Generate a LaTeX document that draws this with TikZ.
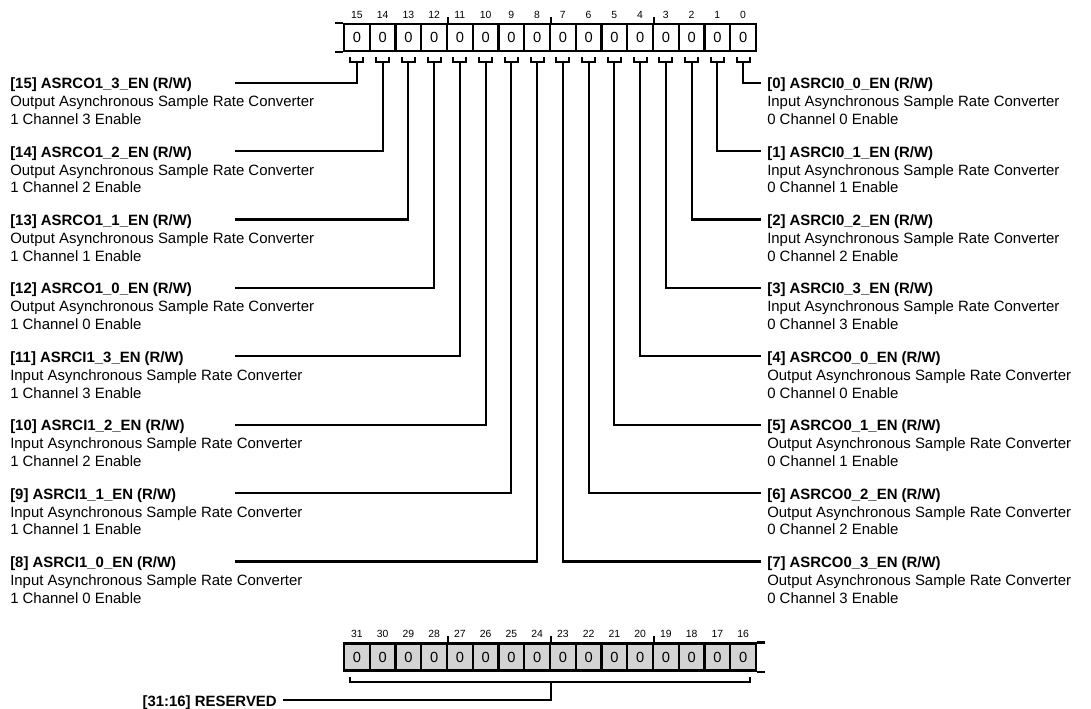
\documentclass[tikz,border=0pt]{standalone}
\usepackage{fontspec}
\setmainfont{Liberation Sans}
\usetikzlibrary{positioning,calc}
\definecolor{rsvgray}{RGB}{211,211,211}
\tikzset{
  bitcell/.style={draw,line width=1.6pt,minimum width=19.31pt,minimum height=20.25pt,
    inner sep=0pt,font=\fontsize{11}{12}\selectfont},
  rsvcell/.style={bitcell,fill=rsvgray},
  bitnum/.style={inner sep=0pt,font=\fontsize{7.8}{8}\selectfont},
  wire/.style={line width=1.6pt},
  tick/.style={line width=1.2pt},
  entry/.style={inner sep=0pt,align=left,anchor=north west,font=\fontsize{11.2}{13.4}\selectfont},
}

\begin{document}
\begin{tikzpicture}[x=0.75pt,y=-0.75pt]
  \useasboundingbox (0,0) rectangle (1091,709);
  % bits 15..0
  \foreach \b in {0,...,15} {
    \pgfmathsetmacro\cx{344+25.75*(15-\b)+12.875}
    \node[bitcell] (c\b) at (\cx,37.75) {0};
    \node[bitnum] (n\b) at (\cx,15) {\b};
  }
  \foreach \b in {12,8,4} \draw[tick] (c\b.north east) -- ++(0,-6);
  \draw[wire] (c15.north west) -- ++(-8,0);
  \draw[wire] (c15.south west) -- ++(-8,0);
  % left fields
  \foreach \b/\nm/\io/\ch [count=\r from 0] in {
      15/ASRCO1\_3\_EN/Output/3, 14/ASRCO1\_2\_EN/Output/2,
      13/ASRCO1\_1\_EN/Output/1, 12/ASRCO1\_0\_EN/Output/0,
      11/ASRCI1\_3\_EN/Input/3, 10/ASRCI1\_2\_EN/Input/2,
      9/ASRCI1\_1\_EN/Input/1, 8/ASRCI1\_0\_EN/Input/0} {
    \pgfmathsetmacro\ry{82.7+68.4*\r}
    \draw[wire] ($(c\b.south)+(-6.5,5)$) -- ++(0,5) -- ++(13,0) -- ++(0,-5);
    \coordinate (s\b) at ($(c\b.south)+(0,10)$);
    \coordinate (e\b) at (235,\ry);
    \node[entry] (t\b) at (10,\ry-5)
      {\textbf{[\b] \nm\ (R/W)}\\\io\ Asynchronous Sample Rate Converter\\1 Channel \ch\ Enable};
    \draw[wire] (s\b) |- (e\b);
  }
  % right fields
  \foreach \b/\nm/\io/\ch in {
      0/ASRCI0\_0\_EN/Input/0, 1/ASRCI0\_1\_EN/Input/1,
      2/ASRCI0\_2\_EN/Input/2, 3/ASRCI0\_3\_EN/Input/3,
      4/ASRCO0\_0\_EN/Output/0, 5/ASRCO0\_1\_EN/Output/1,
      6/ASRCO0\_2\_EN/Output/2, 7/ASRCO0\_3\_EN/Output/3} {
    \pgfmathsetmacro\ry{82.7+68.4*\b}
    \draw[wire] ($(c\b.south)+(-6.5,5)$) -- ++(0,5) -- ++(13,0) -- ++(0,-5);
    \coordinate (s\b) at ($(c\b.south)+(0,10)$);
    \coordinate (e\b) at (761,\ry);
    \node[entry] (t\b) at (767,\ry-5)
      {\textbf{[\b] \nm\ (R/W)}\\\io\ Asynchronous Sample Rate Converter\\0 Channel \ch\ Enable};
    \draw[wire] (s\b) |- (e\b);
  }
  % bits 31..16
  \foreach \b in {16,...,31} {
    \pgfmathsetmacro\cx{344+25.75*(31-\b)+12.875}
    \node[rsvcell] (c\b) at (\cx,657) {0};
    \node[bitnum] (n\b) at (\cx,634) {\b};
  }
  \foreach \b in {28,24,20} \draw[tick] (c\b.north east) -- ++(0,-6);
  \draw[wire] (c16.north east) -- ++(8,0);
  \draw[wire] (c16.south east) -- ++(8,0);
  \draw[wire] ($(c31.south)+(-6.5,5)$) -- ++(0,5) -| ($(c16.south)+(6.5,5)$);
  \coordinate (s31) at ($(c24.south east)+(0,10)$);
  \coordinate (e31) at (283,700);
  \node[entry,anchor=base east] (t31) at (277,706) {\textbf{[31:16] RESERVED}};
  \draw[wire] (s31) |- (e31);
\end{tikzpicture}
\end{document}
